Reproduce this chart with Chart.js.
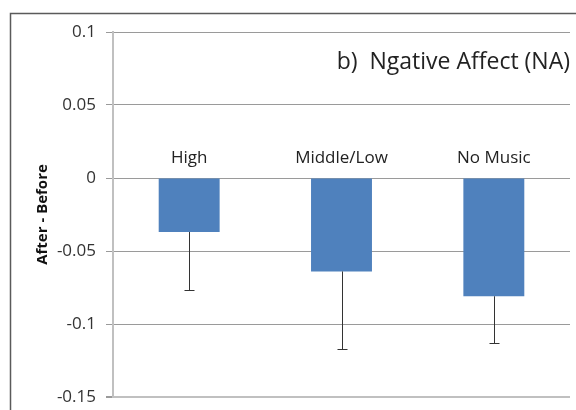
<!DOCTYPE html>
<html>
<head>
<meta charset="utf-8">
<script src="https://cdn.jsdelivr.net/npm/chart.js@4"></script>
<style>
  html, body { margin: 0; padding: 0; background: #fff; }
  #wrap { width: 576px; height: 410px; position: relative; }
</style>
</head>
<body>
<div id="wrap"><canvas id="chart" width="576" height="410"></canvas></div>
<script>
// Daten
const categories = ['High', 'Middle/Low', 'No Music'];
const diffValues = [-0.037, -0.064, -0.081];
const errLow = [-0.077, -0.117, -0.113];
const yTicks = ['-0.15', '-0.1', '-0.05', '0', '0.05', '0.1'];
const titleText = 'b)  Ngative Affect (NA)';
const yTitle = 'After - Before';

const FONT = '"Open Sans", "Noto Sans", sans-serif';

// Rahmen, Fehlerbalken, Kategorien und Titel
const extras = {
  id: 'extras',
  beforeDraw(chart) {
    const ctx = chart.ctx;
    ctx.save();
    ctx.fillStyle = '#fff';
    ctx.fillRect(0, 0, chart.width, chart.height);
    ctx.strokeStyle = '#5a5a5a';
    ctx.lineWidth = 1.5;
    ctx.strokeRect(10.5, 13.5, 700, 600);
    ctx.restore();
  },
  afterDatasetsDraw(chart) {
    const ctx = chart.ctx;
    const x = chart.scales.x, y = chart.scales.y;
    const meta = chart.getDatasetMeta(0);
    ctx.save();
    ctx.strokeStyle = '#333';
    ctx.lineWidth = 1;
    meta.data.forEach((bar, i) => {
      const cx = Math.round(bar.x) + 0.5;
      const y0 = y.getPixelForValue(diffValues[i]);
      const y1 = Math.round(y.getPixelForValue(errLow[i])) + 0.5;
      ctx.beginPath();
      ctx.moveTo(cx, y0);
      ctx.lineTo(cx, y1);
      ctx.moveTo(cx - 5, y1);
      ctx.lineTo(cx + 5, y1);
      ctx.stroke();
    });
    // Kategorien oberhalb der Nulllinie
    ctx.fillStyle = '#222';
    ctx.font = '17px ' + FONT;
    ctx.textAlign = 'center';
    ctx.textBaseline = 'middle';
    const zero = y.getPixelForValue(0);
    categories.forEach((c, i) => {
      ctx.fillText(c, x.getPixelForValue(i), zero - 20);
    });
    // Titel
    ctx.font = '23px ' + FONT;
    ctx.textAlign = 'right';
    ctx.fillText(titleText, chart.chartArea.right, y.getPixelForValue(0.079));
    // Achsentitel
    ctx.translate(43, (chart.chartArea.top + chart.chartArea.bottom) / 2);
    ctx.rotate(-Math.PI / 2);
    ctx.textAlign = 'center';
    ctx.fillStyle = '#111';
    ctx.font = 'bold 15px ' + FONT;
    ctx.fillText(yTitle, 0, 0);
    ctx.restore();
  }
};

const ctx = document.getElementById('chart').getContext('2d');
window.myChart = new Chart(ctx, {
  type: 'bar',
  data: {
    labels: categories,
    datasets: [{
      data: diffValues,
      backgroundColor: '#4F81BD',
      borderWidth: 0,
      barPercentage: 0.4,
      categoryPercentage: 1.0
    }]
  },
  options: {
    responsive: false,
    animation: false,
    devicePixelRatio: 1,
    layout: { padding: { left: 0, right: 6, top: 32, bottom: 13 } },
    plugins: { legend: { display: false }, tooltip: { enabled: false }, title: { display: false } },
    scales: {
      x: {
        display: false
      },
      y: {
        min: -0.15,
        max: 0.1,
        ticks: {
          stepSize: 0.05,
          color: '#333',
          padding: 10,
          font: { size: 17, family: FONT },
          callback: (v, i) => yTicks[i]
        },
        grid: {
          color: (c) => c.index === 0 ? '#c0c0c0' : '#9a9a9a',
          lineWidth: (c) => c.index === 0 ? 2 : 1,
          tickLength: 7,
          tickColor: '#9a9a9a'
        },
        border: { display: true, color: '#c0c0c0', width: 2 },
        afterFit(scale) {
          scale.width = 113;
          scale.paddingTop = 0;
          scale.paddingBottom = 0;
        }
      }
    }
  },
  plugins: [extras]
});
</script>
</body>
</html>
